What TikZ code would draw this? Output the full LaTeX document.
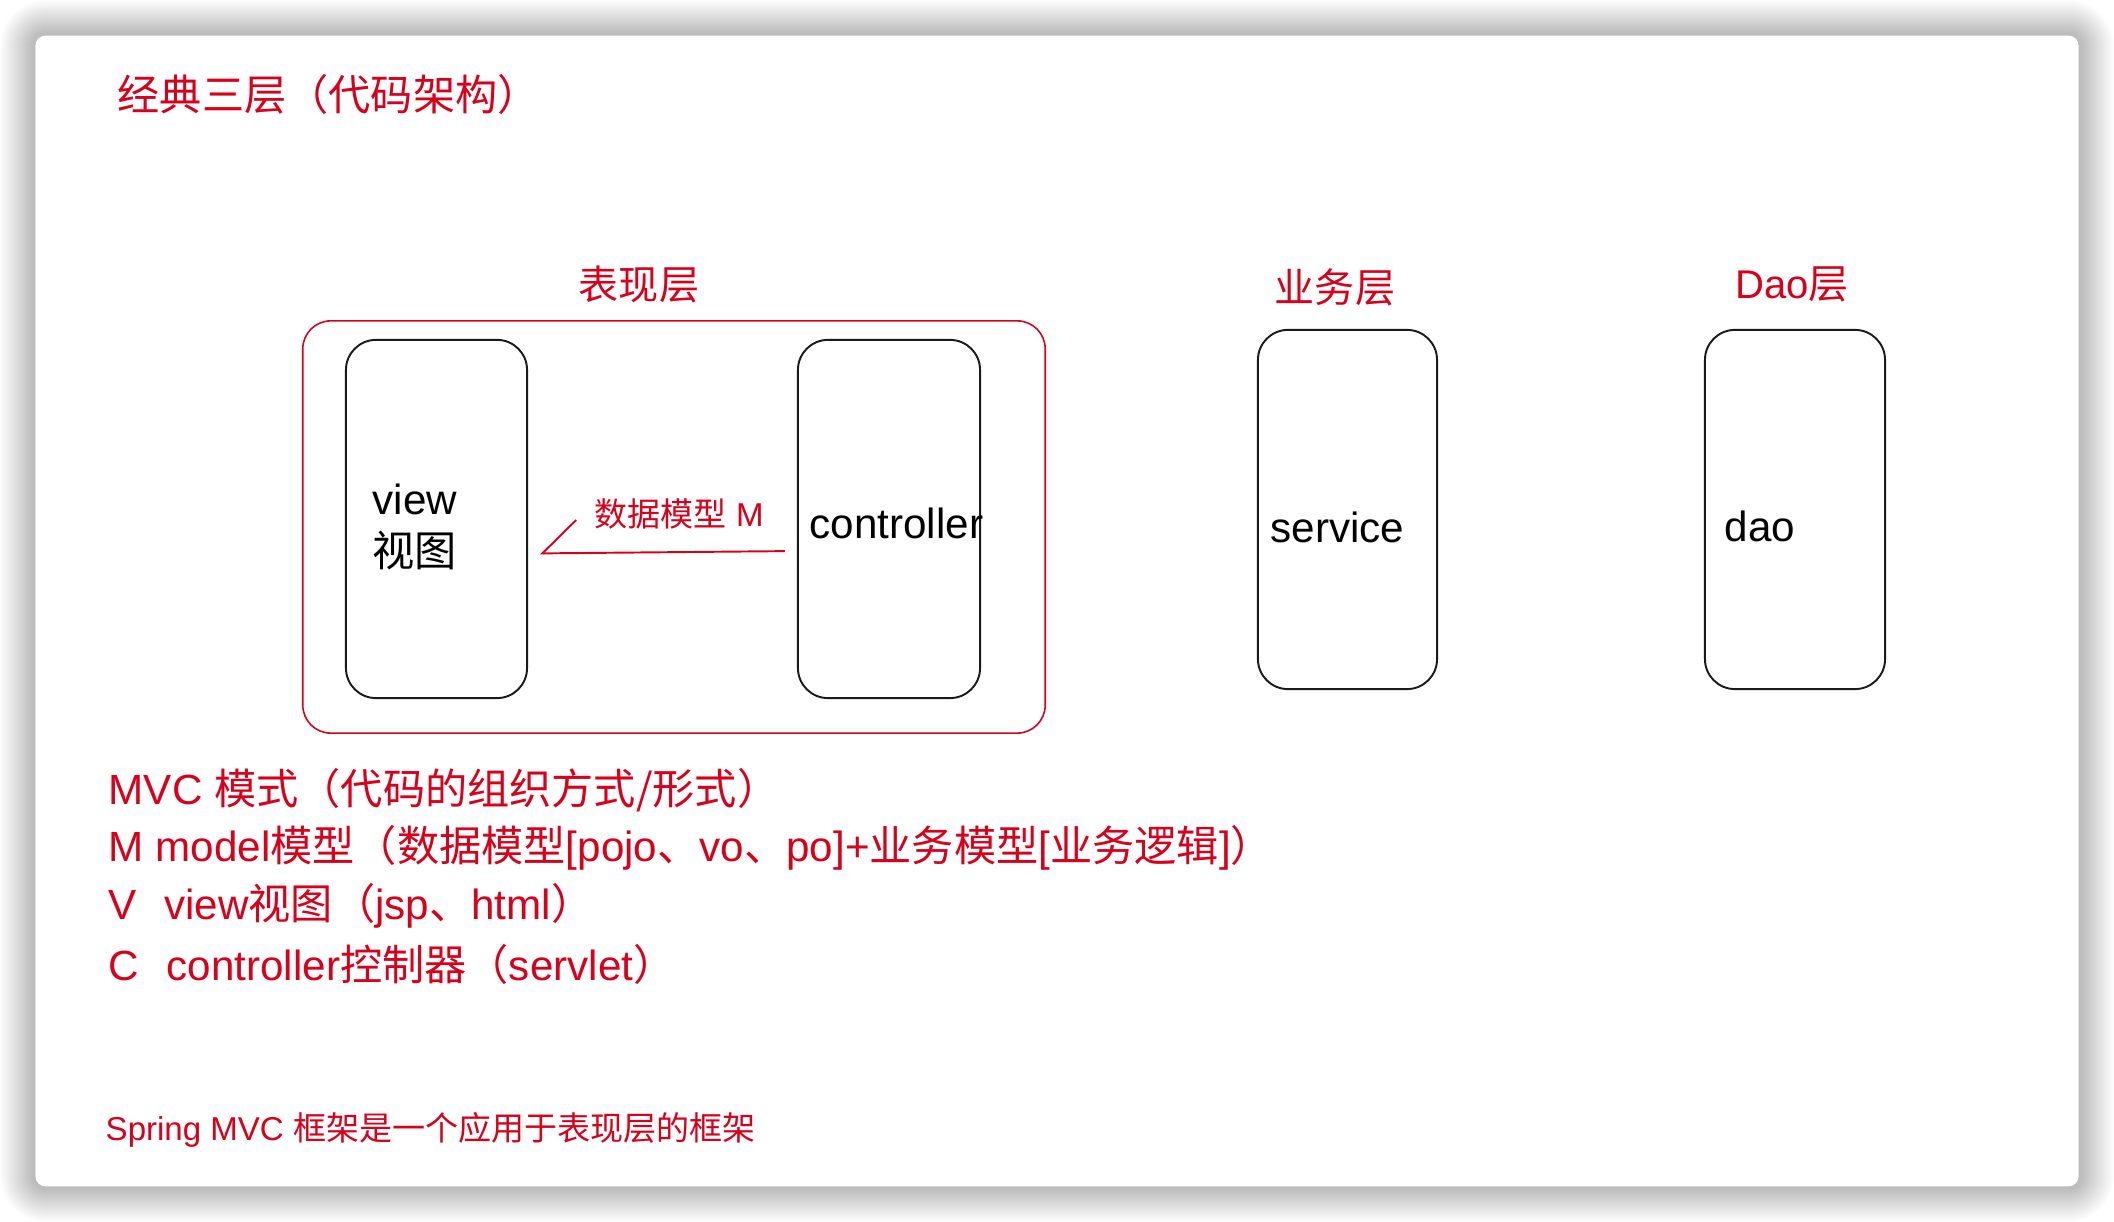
\documentclass[tikz,border=0pt]{standalone}
\usepackage{fontspec}
\setmainfont{Liberation Sans}
\newfontfamily\cjk{Noto Sans CJK SC}
\usepackage{tikz}
\usetikzlibrary{arrows.meta,positioning}
\definecolor{MvcRed}{HTML}{D9001B}
\definecolor{MvcInk}{HTML}{1A1A1A}

\begin{document}
\begin{tikzpicture}[x=0.01cm, y=-0.01cm,
  card/.style={fill=white, rounded corners=0.1cm, minimum width=20.42cm, minimum height=11.50cm, inner sep=0pt},
  tier/.style={draw=MvcInk, line width=0.55pt, rounded corners=0.3cm, minimum width=1.81cm, minimum height=3.58cm, inner sep=0pt},
  group/.style={draw=MvcRed, line width=0.45pt, rounded corners=0.28cm, minimum width=7.42cm, minimum height=4.12cm, inner sep=0pt},
  inktext/.style={text=black, font=\fontsize{12}{15}\selectfont, inner sep=0pt, anchor=west, align=left},
  layername/.style={text=MvcRed, font=\cjk\fontsize{11.4}{13}\selectfont, inner sep=0pt},
  rednote/.style={text=MvcRed, font=\fontsize{12}{14}\selectfont, inner sep=0pt, anchor=west},
  smallnote/.style={text=MvcRed, font=\fontsize{9.4}{11}\selectfont, inner sep=0pt, anchor=west},
  modelflow/.style={draw=MvcRed, line width=0.55pt, -{Straight Barb[right, length=0.34cm, width=0.66cm]}, shorten <=0.12cm, shorten >=0.12cm}]
\useasboundingbox (0,0) rectangle (2114,1222);
% soft shadow round the card
\foreach \s in {1,...,36}
  \fill[black, opacity=0.0062, rounded corners=0.1cm+\s*0.01cm] (36-\s,36-\s) rectangle (2078+\s,1186+\s);
\node[card] (card) at (1057,611) {};
\node[text=MvcRed, font=\cjk\fontsize{12}{14}\selectfont, inner sep=0pt, anchor=west] (title) at (117,94) {经典三层（代码架构）};
% presentation layer
\node[group] (present) at (674,527) {};
\node[tier] (view) at (436.5,519) {};
\node[tier, minimum width=1.82cm] (ctrl) at (889,519) {};
\node[inktext] (viewtxt) at (372,527) {view\\{\cjk 视图}};
\node[inktext] (ctrltxt) at (809,523) {controller};
\node[layername] (presentname) at (639,284) {表现层};
% service and dao
\node[tier, minimum width=1.79cm, minimum height=3.59cm] (service) at (1347.5,509.5) {};
\node[tier, minimum width=1.80cm, minimum height=3.59cm] (dao) at (1795,509.5) {};
\node[inktext] (servicetxt) at (1270,527) {service};
\node[inktext] (daotxt) at (1724,526) {dao};
\node[layername] (servicename) at (1335,287) {业务层};
\node[layername, font=\fontsize{11.4}{13}\selectfont] (daoname) at (1792,284) {Dao{\cjk 层}};
% data model passed back to the view
\draw[modelflow] ([yshift=-0.32cm]ctrl.west) -- ([yshift=-0.345cm]view.east);
\node[smallnote] (modellbl) at (594,514) {{\cjk 数据模型} M};
% notes
\node[rednote] (mvc) at (108,790) {MVC {\cjk 模式（代码的组织方式/形式）}};
\node[rednote] (mline) at (108,848) {M model{\cjk 模型（数据模型}[pojo{\cjk 、}vo{\cjk 、}po]+{\cjk 业务模型}[{\cjk 业务逻辑}]{\cjk ）}};
\node[rednote] (vline) at (108,906) {V\hspace{0.65em}view{\cjk 视图（}jsp{\cjk 、}html{\cjk ）}};
\node[rednote] (cline) at (108,964) {C\hspace{0.65em}controller{\cjk 控制器（}servlet{\cjk ）}};
\node[smallnote] (spring) at (105,1130) {Spring MVC {\cjk 框架是一个应用于表现层的框架}};
\end{tikzpicture}
\end{document}
